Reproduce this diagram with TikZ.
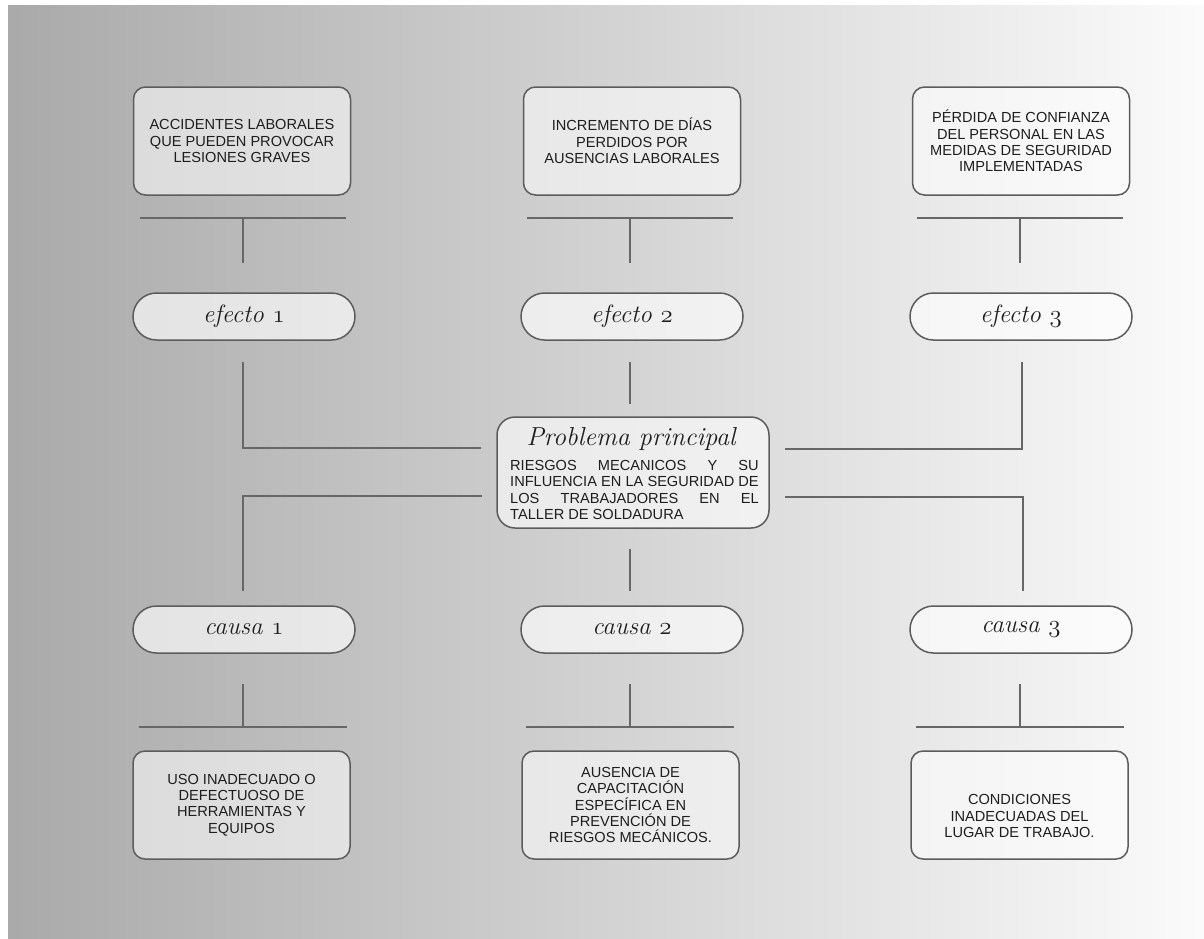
\documentclass[tikz,border=0pt]{standalone}
\usepackage{fontspec}
\newfontfamily\boxfont{Liberation Sans}
\usetikzlibrary{shapes.misc}
\definecolor{bgL}{gray}{0.665}
\definecolor{bgR}{gray}{0.985}
\definecolor{edge}{HTML}{5C5C5C}
\definecolor{wirec}{HTML}{676767}
\definecolor{ink}{HTML}{1E1E1E}
\newcommand\osn[1]{{\fontencoding{OML}\fontfamily{cmm}\fontseries{m}\fontshape{it}\selectfont #1}}
\newlength\bodyw
\tikzset{
  boxnode/.style={draw=edge, line width=1.5pt, rounded corners=12pt, fill=white, fill opacity=0.55, text opacity=1,
    minimum width=217pt, minimum height=108pt, align=center, inner sep=0pt, text=ink,
    font=\boxfont\fontsize{14.6}{16.3}\selectfont},
  txtnode/.style={align=center, inner sep=0pt, text=ink, font=\boxfont\fontsize{14.6}{16.3}\selectfont},
  pillnode/.style={rounded rectangle, draw=edge, line width=1.5pt, fill=white, fill opacity=0.65, text opacity=1,
    minimum width=222pt, minimum height=47pt, inner sep=0pt, text=ink, font=\fontsize{25}{30}\selectfont\itshape},
  cboxnode/.style={draw=edge, line width=1.5pt, rounded corners=18pt, fill=white, fill opacity=0.6, text opacity=1,
    minimum width=272pt, minimum height=111pt, inner sep=0pt},
  wire/.style={draw=wirec, line width=1.7pt}
}
\begin{document}
\settowidth{\bodyw}{\boxfont\fontsize{14.6}{16.3}\selectfont INFLUENCIA EN LA SEGURIDAD DE}%
\begin{tikzpicture}[x=1pt,y=-1pt]
\useasboundingbox (0,0) rectangle (1204,938);
\fill[white] (0,0) rectangle (1204,938);
\shade[left color=bgL, right color=bgR] (8,5) rectangle (1204,938);

% top boxes (efectos)
\node[boxnode] (t1) at (242,141) {ACCIDENTES LABORALES\\QUE PUEDEN PROVOCAR\\LESIONES GRAVES};
\node[boxnode] (t2) at (632,141) {INCREMENTO DE DÍAS\\PERDIDOS POR\\AUSENCIAS LABORALES};
\node[boxnode] (t3) at (1021,141) {PÉRDIDA DE CONFIANZA\\DEL PERSONAL EN LAS\\MEDIDAS DE SEGURIDAD\\IMPLEMENTADAS};

% pills
\node[pillnode] (e1) at (244,316.5) {efecto \osn{1}};
\node[pillnode] (e2) at (632,316.5) {efecto \osn{2}};
\node[pillnode] (e3) at (1021,316.5) {efecto \osn{3}};
\node[pillnode] (k1) at (244,629.5) {causa \osn{1}};
\node[pillnode] (k2) at (632,629.5) {causa \osn{2}};
\node[pillnode] (k3) at (1021,629.5) {causa \osn{3}};

% bottom boxes (causas)
\node[boxnode] (b1) at (241.5,805) {USO INADECUADO O\\DEFECTUOSO DE\\HERRAMIENTAS Y\\EQUIPOS};
\node[boxnode] (b2) at (630.5,805) {AUSENCIA DE\\CAPACITACIÓN\\ESPECÍFICA EN\\PREVENCIÓN DE\\RIESGOS MECÁNICOS.};
\node[boxnode] (b3) at (1019.5,805) {};
\node[txtnode] (b3t) at (1019.5,816) {CONDICIONES\\INADECUADAS DEL\\LUGAR DE TRABAJO.};

% central problem
\node[cboxnode] (c) at (633,472.5) {};
\node[anchor=base, inner sep=0pt, text=ink, font=\fontsize{26}{31}\selectfont\itshape] (ctitle) at (631,445) {Problema principal};
\node[anchor=north west, inner sep=0pt, text=ink, text width=\bodyw+0.3pt, align=justify,
      font=\boxfont\fontsize{14.6}{16.3}\selectfont] (cbody) at (510,460)
  {RIESGOS MECANICOS Y SU\linebreak INFLUENCIA EN LA SEGURIDAD DE\linebreak LOS TRABAJADORES EN EL\linebreak TALLER DE SOLDADURA};

% T-bars under top boxes and above bottom boxes
\foreach \i/\x in {1/243,2/630,3/1020}{
  \coordinate (ta\i) at (\x-103,218);
  \coordinate (tb\i) at (\x+103,218);
  \coordinate (tm\i) at (\x,218);
  \coordinate (tv\i) at (\x,263);
  \draw[wire] (ta\i) -- (tb\i);
  \draw[wire] (tm\i) -- (tv\i);
  \coordinate (ba\i) at (\x-104,727);
  \coordinate (bb\i) at (\x+104,727);
  \coordinate (bm\i) at (\x,727);
  \coordinate (bv\i) at (\x,684);
  \draw[wire] (ba\i) -- (bb\i);
  \draw[wire] (bm\i) -- (bv\i);
}

% connectors to the central box
\coordinate (e1d) at (243,362);
\coordinate (cl1) at (481,448);
\coordinate (e3d) at (1022,362);
\coordinate (cr1) at (785,449);
\coordinate (cl2) at (482,496);
\coordinate (k1u) at (243,591);
\coordinate (cr2) at (785,497);
\coordinate (k3u) at (1023,591);
\coordinate (e2d) at (630,362);
\coordinate (c2u) at (630,404);
\coordinate (c2d) at (630,549);
\coordinate (k2u) at (630,591);
\draw[wire] (e1d) |- (cl1);
\draw[wire] (e3d) |- (cr1);
\draw[wire] (cl2) -| (k1u);
\draw[wire] (cr2) -| (k3u);
\draw[wire] (e2d) -- (c2u);
\draw[wire] (c2d) -- (k2u);
\end{tikzpicture}
\end{document}
